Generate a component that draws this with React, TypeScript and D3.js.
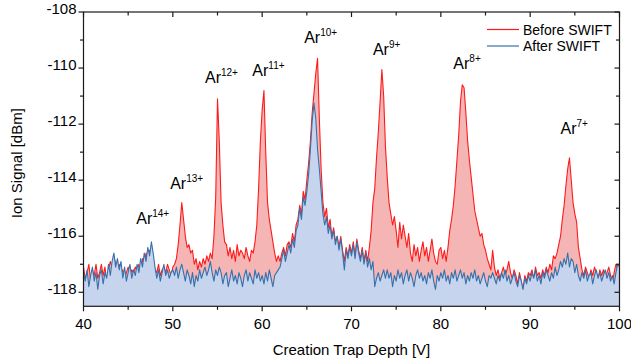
import React from "react";
import * as d3 from "d3";

// Creation trap depth sampling (V)
const xStart = 40;
const xStep = 0.2;

// Ion signal [dBm] before SWIFT (red)
const beforeSwift: number[] = [
  -117.1,-117.5,-117.3,-117.0,-117.6,-117.2,-117.4,-117.0,-117.5,-117.3,
  -117.0,-117.4,-117.1,-117.6,-117.2,-116.9,-117.1,-116.7,-117.0,-117.3,
  -117.0,-117.3,-117.2,-117.5,-117.3,-117.1,-117.4,-117.2,-117.3,-117.1,
  -117.2,-117.0,-117.3,-116.8,-117.0,-116.6,-116.8,-116.5,-116.8,-116.9,
  -117.2,-117.3,-117.0,-117.4,-117.2,-117.1,-117.3,-117.0,-117.2,-117.4,
  -117.1,-117.0,-116.8,-116.3,-115.6,-114.8,-115.4,-116.0,-116.4,-116.3,
  -116.6,-116.5,-117.0,-116.8,-117.2,-116.9,-117.1,-116.8,-117.0,-116.7,
  -116.9,-116.6,-116.8,-116.0,-114.6,-111.1,-112.6,-114.8,-115.6,-116.2,
  -116.3,-116.7,-116.4,-116.8,-116.5,-116.9,-116.3,-116.7,-116.5,-116.6,
  -116.8,-116.4,-116.7,-116.9,-116.5,-116.6,-116.2,-115.6,-114.3,-112.6,
  -111.5,-110.8,-113.0,-114.8,-115.4,-115.8,-116.2,-116.6,-116.9,-116.7,
  -116.9,-116.6,-116.4,-116.7,-116.3,-116.2,-116.4,-115.9,-116.2,-115.6,
  -115.4,-114.9,-115.2,-114.4,-114.7,-114.0,-113.4,-112.6,-111.6,-110.9,
  -110.2,-109.65,-111.8,-113.6,-114.8,-115.3,-115.0,-115.7,-115.4,-116.0,
  -115.7,-116.2,-116.0,-116.4,-116.0,-116.5,-116.9,-116.4,-116.7,-116.3,
  -116.6,-116.2,-116.7,-116.1,-116.5,-116.8,-116.4,-116.9,-116.5,-116.9,
  -116.4,-115.8,-114.8,-114.3,-113.2,-112.3,-111.2,-110.05,-111.0,-112.8,
  -113.9,-114.8,-115.2,-115.6,-115.3,-115.8,-116.4,-115.5,-116.1,-115.6,
  -116.0,-116.4,-115.9,-116.6,-116.9,-116.3,-116.7,-116.4,-116.9,-116.5,
  -116.2,-116.7,-116.4,-116.9,-116.5,-116.1,-116.6,-116.9,-117.0,-116.5,
  -116.4,-116.8,-116.5,-116.9,-116.4,-115.8,-115.4,-114.9,-114.2,-113.3,
  -112.4,-111.2,-110.6,-110.7,-111.6,-112.6,-113.3,-113.9,-114.5,-115.1,
  -115.4,-115.7,-116.0,-115.9,-116.3,-116.5,-116.8,-117.0,-117.2,-116.5,
  -117.1,-117.4,-117.2,-117.5,-117.3,-117.1,-117.4,-117.2,-116.9,-117.3,
  -117.5,-117.2,-117.4,-117.7,-117.3,-117.6,-117.9,-117.4,-117.6,-117.3,
  -117.4,-117.2,-117.5,-117.1,-117.4,-117.3,-117.5,-117.2,-117.4,-117.1,
  -117.3,-117.0,-117.2,-116.7,-116.8,-116.6,-116.3,-116.0,-115.4,-114.9,
  -114.2,-113.6,-113.2,-114.0,-114.8,-115.2,-115.5,-116.4,-116.8,-117.2,
  -117.4,-117.1,-117.3,-117.5,-117.2,-117.4,-117.1,-117.3,-117.5,-117.2,
  -117.4,-117.2,-117.5,-117.3,-117.1,-117.4,-117.7,-117.3,-117.0,-117.2,
  -117.1,
];

// Ion signal [dBm] after SWIFT (blue)
const afterSwift: number[] = [
  -117.3,-117.6,-117.2,-117.8,-117.4,-117.1,-117.6,-117.3,-117.9,-117.4,
  -117.2,-117.7,-117.3,-117.5,-117.0,-117.4,-116.9,-116.6,-117.1,-116.8,
  -117.2,-116.9,-117.5,-117.1,-117.6,-117.3,-117.0,-117.5,-117.2,-117.4,
  -117.0,-117.3,-116.8,-117.1,-116.6,-116.9,-116.4,-116.7,-116.2,-116.6,
  -117.1,-117.5,-117.2,-117.6,-117.3,-117.0,-117.4,-117.2,-117.5,-117.3,
  -117.2,-117.4,-117.1,-117.5,-117.2,-117.0,-117.3,-117.6,-117.2,-117.4,
  -117.7,-117.3,-117.8,-117.4,-117.6,-117.2,-117.5,-117.3,-117.1,-117.4,
  -117.2,-116.9,-117.3,-117.6,-117.2,-117.4,-117.1,-117.3,-117.7,-117.4,
  -117.3,-117.8,-117.5,-117.2,-117.6,-117.4,-117.7,-117.3,-117.5,-117.8,
  -117.4,-117.2,-117.6,-117.3,-117.5,-117.7,-117.2,-117.5,-117.3,-117.6,
  -117.4,-117.7,-117.3,-117.6,-117.2,-117.5,-117.8,-117.4,-117.3,-117.2,
  -117.1,-116.8,-116.5,-116.9,-116.6,-116.3,-116.6,-116.1,-116.4,-115.8,
  -115.6,-115.0,-115.4,-114.6,-114.9,-114.4,-113.8,-112.9,-111.9,-111.25,
  -111.8,-112.9,-113.6,-114.4,-115.2,-115.6,-115.3,-115.9,-115.6,-116.1,
  -115.8,-116.3,-116.0,-116.5,-116.1,-116.6,-117.2,-116.5,-116.8,-116.4,
  -116.7,-116.3,-116.8,-116.2,-116.6,-116.9,-116.5,-117.0,-116.6,-117.1,
  -116.8,-117.2,-116.9,-117.8,-117.5,-117.3,-117.6,-117.4,-117.2,-117.5,
  -117.2,-117.5,-117.3,-117.8,-117.4,-117.6,-117.2,-117.5,-117.3,-117.7,
  -117.4,-117.2,-117.6,-117.3,-117.5,-117.8,-117.4,-117.2,-117.5,-117.3,
  -117.6,-117.4,-117.7,-117.3,-117.5,-117.2,-117.6,-117.9,-117.4,-117.6,
  -117.3,-117.5,-117.2,-117.6,-117.4,-117.7,-117.3,-117.5,-117.2,-117.6,
  -117.4,-117.2,-117.5,-117.3,-117.7,-117.4,-117.6,-117.3,-117.5,-117.2,
  -117.6,-117.4,-117.7,-117.5,-117.3,-117.6,-117.8,-117.4,-117.5,-117.3,
  -117.5,-117.7,-117.4,-117.6,-117.3,-117.5,-117.2,-117.6,-117.4,-117.7,
  -117.5,-117.3,-117.6,-117.8,-117.4,-117.6,-117.9,-117.5,-117.7,-117.4,
  -117.6,-117.3,-117.5,-117.2,-117.6,-117.4,-117.7,-117.3,-117.5,-117.2,
  -117.4,-117.6,-117.3,-117.5,-117.1,-117.4,-117.2,-116.9,-117.1,-116.8,
  -117.0,-116.6,-117.1,-116.8,-116.9,-117.3,-117.0,-117.4,-117.6,-117.3,
  -117.5,-117.2,-117.6,-117.4,-117.3,-117.7,-117.4,-117.2,-117.5,-117.3,
  -117.6,-117.4,-117.2,-117.5,-117.3,-117.6,-117.4,-117.7,-117.3,-117.0,
  -117.1,
];

const xTicks = [40, 50, 60, 70, 80, 90, 100];
const xMinorTicks = [45, 55, 65, 75, 85, 95];
const yTicks = [-118, -116, -114, -112, -110, -108];
const yMinorTicks = [-117, -115, -113, -111, -109];

const peakLabels = ["14+", "13+", "12+", "11+", "10+", "9+", "8+", "7+"];
const peakLabelX = [45.9, 49.7, 53.6, 58.9, 64.7, 72.4, 81.4, 93.4];
const peakLabelY = [-115.55, -114.3, -110.55, -110.3, -109.1, -109.55, -110.05, -112.35];

const legendNames = ["Before SWIFT", "After SWIFT"];

const W = 631;
const H = 362;
const left = 83.5;
const right = 619.5;
const top = 12;
const bottom = 306.3;

const RED = "#ff1a1a";
const RED_FILL = "#f5b5b5";
const BLUE = "#3571ad";
const BLUE_FILL = "#c6d5ed";
const FONT = "'Liberation Sans', Arial, Helvetica, sans-serif";

export default function App() {
  const x = d3.scaleLinear().domain([40, 100]).range([left, right]);
  const y = d3.scaleLinear().domain([-118.5, -108]).range([bottom, top]);

  const toPts = (arr: number[]) => arr.map((v, i) => [xStart + i * xStep, v] as [number, number]);
  const redPts = toPts(beforeSwift);
  const bluePts = toPts(afterSwift);

  const area = d3
    .area<[number, number]>()
    .x((d) => x(d[0]))
    .y0(y(-118.5))
    .y1((d) => y(d[1]));
  const line = d3
    .line<[number, number]>()
    .x((d) => x(d[0]))
    .y((d) => y(d[1]));

  const axisColor = "#1a1a1a";

  return (
    <svg width={W} height={H} style={{ position: "absolute", left: 0, top: 0, background: "#fff" }} fontFamily={FONT}>
      <defs>
        <clipPath id="plotclip">
          <rect x={left} y={top} width={right - left} height={bottom - top} />
        </clipPath>
      </defs>
      <rect x={0} y={0} width={W} height={H} fill="#fff" />
      <g clipPath="url(#plotclip)">
        <path d={area(redPts) || ""} fill={RED_FILL} stroke="none" />
        <path d={line(redPts) || ""} fill="none" stroke={RED} strokeWidth={1.1} strokeLinejoin="round" />
        <path d={area(bluePts) || ""} fill={BLUE_FILL} stroke="none" />
        <path d={line(bluePts) || ""} fill="none" stroke={BLUE} strokeWidth={1.1} strokeLinejoin="round" />
      </g>

      {/* frame */}
      <rect x={left} y={top} width={right - left} height={bottom - top} fill="none" stroke={axisColor} strokeWidth={1.2} />

      {/* x ticks */}
      {xTicks.map((t) => (
        <g key={"xt" + t}>
          <line x1={x(t)} x2={x(t)} y1={bottom} y2={bottom + 5} stroke={axisColor} strokeWidth={1.2} />
          <line x1={x(t)} x2={x(t)} y1={top} y2={top + 5} stroke={axisColor} strokeWidth={1.2} />
          <text x={x(t)} y={bottom + 23} textAnchor="middle" fontSize={15} fill="#000">
            {t}
          </text>
        </g>
      ))}
      {xMinorTicks.map((t) => (
        <g key={"xm" + t}>
          <line x1={x(t)} x2={x(t)} y1={bottom} y2={bottom + 3.5} stroke={axisColor} strokeWidth={1.2} />
          <line x1={x(t)} x2={x(t)} y1={top} y2={top + 3.5} stroke={axisColor} strokeWidth={1.2} />
        </g>
      ))}
      {/* y ticks */}
      {yTicks.map((t) => (
        <g key={"yt" + t}>
          <line x1={left - 5} x2={left} y1={y(t)} y2={y(t)} stroke={axisColor} strokeWidth={1.2} />
          <line x1={right - 5} x2={right} y1={y(t)} y2={y(t)} stroke={axisColor} strokeWidth={1.2} />
          <text x={left - 7} y={y(t) + 1.5} textAnchor="end" fontSize={15} fill="#000">
            {t}
          </text>
        </g>
      ))}
      {yMinorTicks.map((t) => (
        <g key={"ym" + t}>
          <line x1={left - 3.5} x2={left} y1={y(t)} y2={y(t)} stroke={axisColor} strokeWidth={1.2} />
          <line x1={right - 3.5} x2={right} y1={y(t)} y2={y(t)} stroke={axisColor} strokeWidth={1.2} />
        </g>
      ))}

      {/* axis titles */}
      <text x={(left + right) / 2} y={355} textAnchor="middle" fontSize={15} fill="#000">
        Creation Trap Depth [V]
      </text>
      <text transform={`translate(22, ${(top + bottom) / 2 + 4}) rotate(-90)`} textAnchor="middle" fontSize={15} fill="#000">
        Ion Signal [dBm]
      </text>

      {/* peak labels */}
      {peakLabels.map((s, i) => (
        <text key={"pl" + i} x={x(peakLabelX[i])} y={y(peakLabelY[i])} fontSize={16} fill="#000">
          Ar
          <tspan fontSize={10} dy={-7}>
            {s}
          </tspan>
        </text>
      ))}

      {/* legend */}
      {legendNames.map((n, i) => (
        <g key={"lg" + i}>
          <line x1={487} x2={519} y1={29.5 + i * 16.5} y2={29.5 + i * 16.5} stroke={i === 0 ? RED : BLUE} strokeWidth={1.2} />
          <text x={523} y={34.5 + i * 16.5} fontSize={14} fill="#000">
            {n}
          </text>
        </g>
      ))}
    </svg>
  );
}
